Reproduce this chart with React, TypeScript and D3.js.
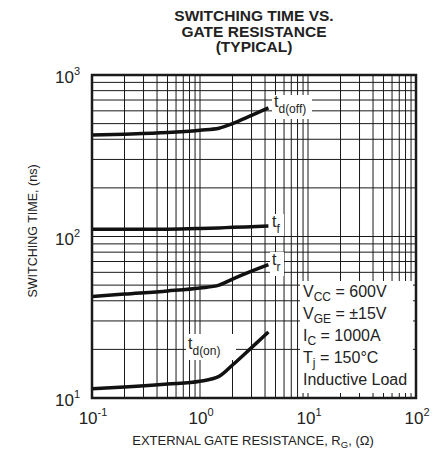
import * as d3 from "d3";
import React from "react";

// gate resistance (ohm) sample points
const resistance = [0.1, 0.2, 0.5, 1.0, 1.5, 2.0, 3.0, 4.3];
// switching times (ns)
const tdOff = [425, 430, 440, 455, 468, 500, 562, 625];
const tf = [111, 111, 111, 112, 113, 114, 115, 116];
const tr = [42.5, 44, 46, 48, 50, 54.5, 61, 67];
const tdOn = [11.4, 11.7, 12.2, 12.7, 13.6, 16.0, 20.5, 25.6];

const xTickExp = ["-1", "0", "1", "2"];
const yTickExp = ["1", "2", "3"];
const titleLines = ["SWITCHING TIME VS.", "GATE RESISTANCE", "(TYPICAL)"];
const conditions = [
  ["V", "CC", " = 600V"],
  ["V", "GE", " = \u00b115V"],
  ["I", "C", " = 1000A"],
  ["T", "j", " = 150\u00b0C"],
  ["Inductive Load", "", ""],
];

const FONT = "'Liberation Sans', Arial, Helvetica, sans-serif";

export default function App() {
  const width = 443;
  const height = 451;
  const left = 92;
  const right = 416;
  const top = 75;
  const bottom = 398;

  const x = d3.scaleLog().domain([0.1, 100]).range([left, right]);
  const y = d3.scaleLog().domain([10, 1000]).range([bottom, top]);

  const xGrid: number[] = [];
  for (let e = -1; e < 2; e++) {
    for (let k = 2; k <= 9; k++) xGrid.push(k * Math.pow(10, e));
  }
  xGrid.push(1, 10);
  const yGrid: number[] = [];
  for (let e = 1; e < 3; e++) {
    for (let k = 2; k <= 9; k++) yGrid.push(k * Math.pow(10, e));
  }
  yGrid.push(100);

  const line = d3
    .line<number>()
    .x((_, i) => x(resistance[i]))
    .y((d) => y(d))
    .curve(d3.curveMonotoneX);

  const series = [tdOff, tf, tr, tdOn];

  return (
    <svg
      width={width}
      height={height}
      style={{ position: "absolute", left: 0, top: 0, background: "#fff" }}
      fontFamily={FONT}
    >
      {titleLines.map((t, i) => (
        <text
          key={t}
          x={254}
          y={21 + i * 15.5}
          textAnchor="middle"
          fontWeight="bold"
          fontSize={15.5}
          fill="#222"
        >
          {t}
        </text>
      ))}

      <g stroke="#1a1a1a" strokeWidth={1}>
        {xGrid.map((v) => (
          <line key={"x" + v} x1={x(v)} x2={x(v)} y1={top} y2={bottom} />
        ))}
        {yGrid.map((v) => (
          <line key={"y" + v} x1={left} x2={right} y1={y(v)} y2={y(v)} />
        ))}
      </g>

      {/* conditions box */}
      <rect x={300} y={281} width={113} height={112} fill="#fff" />
      {conditions.map((c, i) => (
        <text key={i} x={303} y={297 + i * 22} fontSize={16} fill="#222">
          {c[0]}
          {c[1] && (
            <tspan fontSize={12} dy={4}>
              {c[1]}
            </tspan>
          )}
          {c[1] && <tspan dy={-4}>{c[2]}</tspan>}
        </text>
      ))}

      {series.map((s, i) => (
        <path
          key={i}
          d={line(s) ?? ""}
          fill="none"
          stroke="#111"
          strokeWidth={3.5}
          strokeLinecap="butt"
        />
      ))}

      {/* curve labels */}
      <rect x={272} y={95} width={40} height={24} fill="#fff" />
      <text x={274} y={107} fontSize={16} fill="#222">
        t<tspan fontSize={12} dy={6}>d(off)</tspan>
      </text>
      <rect x={270} y={214} width={14} height={22} fill="#fff" />
      <text x={272} y={227} fontSize={16} fill="#222">
        t<tspan fontSize={12} dy={6}>f</tspan>
      </text>
      <rect x={270} y={252} width={14} height={24} fill="#fff" />
      <text x={272} y={265} fontSize={16} fill="#222">
        t<tspan fontSize={12} dy={6}>r</tspan>
      </text>
      <rect x={186} y={334} width={50} height={26} fill="#fff" />
      <text x={188} y={349} fontSize={16} fill="#222">
        t<tspan fontSize={12} dy={6}>d(on)</tspan>
      </text>

      <rect
        x={left}
        y={top}
        width={right - left}
        height={bottom - top}
        fill="none"
        stroke="#1a1a1a"
        strokeWidth={2.5}
      />

      {yTickExp.map((e) => (
        <text
          key={"yt" + e}
          x={80}
          y={y(Math.pow(10, +e)) + 8}
          textAnchor="end"
          fontSize={17}
          fill="#222"
        >
          10
          <tspan fontSize={11} dy={-8}>
            {e}
          </tspan>
        </text>
      ))}
      {xTickExp.map((e) => (
        <text
          key={"xt" + e}
          x={x(Math.pow(10, +e)) + 1}
          y={424}
          textAnchor="middle"
          fontSize={17}
          fill="#222"
        >
          10
          <tspan fontSize={11} dy={-8}>
            {e}
          </tspan>
        </text>
      ))}

      <text x={253} y={445} textAnchor="middle" fontSize={13} fill="#222">
        EXTERNAL GATE RESISTANCE, R
        <tspan fontSize={9.5} dy={3}>
          G
        </tspan>
        <tspan dy={-3}>, (&#937;)</tspan>
      </text>
      <text
        transform={`translate(37,231) rotate(-90)`}
        textAnchor="middle"
        fontSize={12.5}
        fill="#222"
      >
        SWITCHING TIME, (ns)
      </text>
    </svg>
  );
}
